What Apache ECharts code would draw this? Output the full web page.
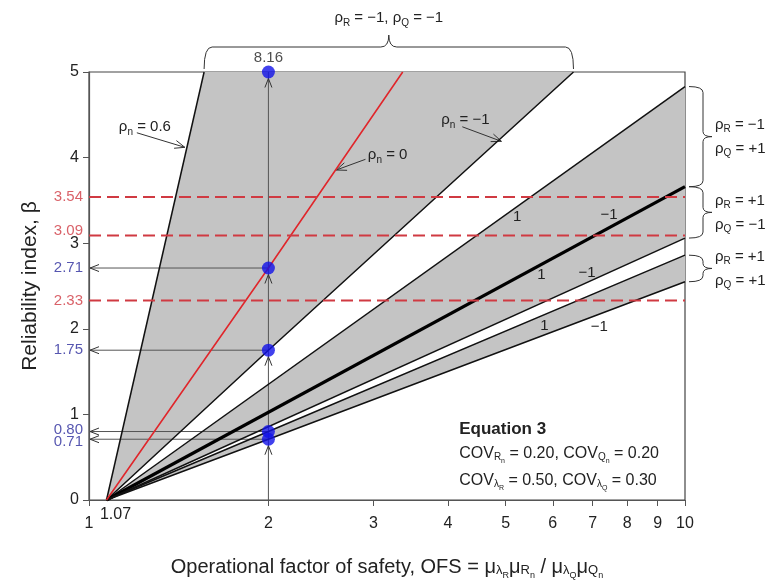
<!DOCTYPE html>
<html><head><meta charset="utf-8">
<script src="https://cdn.jsdelivr.net/npm/echarts@6/dist/echarts.min.js"></script>
<style>html,body{margin:0;padding:0;background:#fff}#c{width:773px;height:587px}</style>
</head><body><div id="c"></div>
<script>
// ---------------- data ----------------
const xTickValues = [1, 2, 3, 4, 5, 6, 7, 8, 9, 10];
const yTickValues = [0, 1, 2, 3, 4, 5];
const ofsStart = 1.07;
const rho06Line   = [[1.07, 0], [1.56, 5]];              // rho_n = 0.6
const rho0Line    = [[1.07, 0], [2, 2.71], [3.36, 5]];   // rho_n = 0 (red)
const rhoM1Line   = [[1.07, 0], [2, 1.75], [6.5, 5]];    // rho_n = -1
const band2Upper  = [[1.07, 0], [10, 4.83]];
const thickLine   = [[1.07, 0], [10, 3.66]];
const band3Lower  = [[1.07, 0], [10, 3.06]];
const band4Upper  = [[1.07, 0], [2, 0.80], [10, 2.86]];
const band4Lower  = [[1.07, 0], [2, 0.71], [10, 2.55]];
const targetBetas = [3.54, 3.09, 2.33];
const pointOFS    = 2;
const pointBetas  = [8.16, 2.71, 1.75, 0.80, 0.71];
const bandLabels  = [['1', 5.23, 3.31], ['\u22121', 7.46, 3.33], ['1', 5.74, 2.63], ['\u22121', 6.85, 2.65], ['1', 5.81, 2.04], ['\u22121', 7.18, 2.02]];

// ---------------- styling / layout ----------------
const F = '"Liberation Sans", Arial, Helvetica, sans-serif';
const TXT = '#222';
const RED = '#d03a42';
const BLUE = '#2c2c9c';
const xMin = 1, xMax = 10, yMin = 0, yMax = 5;

const poly = (up, low) => up.concat(low.slice().reverse());
const grayRegions = [poly(rho06Line, rhoM1Line), poly(band2Upper, thickLine), poly(thickLine, band3Lower), poly(band4Upper, band4Lower)];

function richZ(size) {
  return {
    r: {fontSize: size, fontFamily: F, fill: TXT, lineHeight: 20},
    s: {fontSize: Math.round(size * 0.68), fontFamily: F, fill: TXT, lineHeight: 10, verticalAlign: 'bottom'}
  };
}
function richZ2(size) {
  return {
    r: {fontSize: size, fontFamily: F, fill: TXT, lineHeight: 22},
    s: {fontSize: 10, fontFamily: F, fill: TXT, lineHeight: 10, verticalAlign: 'bottom', padding: [0, 0, 3, 0]},
    ss: {fontSize: 7, fontFamily: F, fill: TXT, lineHeight: 7, verticalAlign: 'bottom'}
  };
}
function head(tip, from, len, w) {
  const dx = tip[0] - from[0], dy = tip[1] - from[1];
  const L = Math.hypot(dx, dy), ux = dx / L, uy = dy / L;
  const bx = tip[0] - ux * len, by = tip[1] - uy * len;
  return {type: 'polyline', shape: {points: [[bx - uy * w, by + ux * w], tip, [bx + uy * w, by - ux * w]]},
          style: {stroke: '#333', fill: null, lineWidth: 1}};
}
function seg(a, b, color, w) {
  return {type: 'line', shape: {x1: a[0], y1: a[1], x2: b[0], y2: b[1]}, style: {stroke: color || '#444', lineWidth: w || 1}};
}
function text(str, x, y, align, rich, extra) {
  return {type: 'text', style: Object.assign({text: str, x: x, y: y, align: align || 'center', verticalAlign: 'middle', rich: rich}, extra || {})};
}

function renderNotes(params, api) {
  const ch = [];
  const c = p => api.coord(p);
  const R = 6.5;
  // vertical guide at OFS = 2
  const vb = c([pointOFS, yMin]), vt = c([pointOFS, yMax]);
  ch.push(seg(vb, vt, '#555', 1));
  // horizontal guides with arrows to the y-axis
  pointBetas.forEach(b => {
    if (b > yMax) return;
    const p = c([pointOFS, b]), a = c([xMin, b]);
    ch.push(seg(p, [a[0] + 1, a[1]], '#555', 1));
    ch.push(head([a[0] + 1, a[1]], p, 9, 3.5));
  });
  // upward arrowheads below dots
  [8.16, 2.71, 1.75, 0.71].forEach(b => {
    const p = c([pointOFS, Math.min(b, yMax)]);
    const tip = [p[0], p[1] + R];
    ch.push(head(tip, [tip[0], tip[1] + 10], 9, 3.5));
  });
  // rho_n annotations (text position, arrow tail, arrow tip in data units)
  const notes = [
    ['0.6', [1.241, 4.36], [1.203, 4.29], [1.448, 4.12]],
    ['0', [3.17, 4.03], [2.91, 3.98], [2.60, 3.855]],
    ['\u22121', [4.28, 4.44], [4.23, 4.36], [4.92, 4.19]]
  ];
  notes.forEach(n => {
    const t = c(n[1]), a = c(n[2]), b = c(n[3]);
    ch.push(text('{r|\u03c1}{s|n}{r| = ' + n[0] + '}', t[0], t[1], 'center', richZ(15)));
    ch.push(seg(a, b, '#333', 1));
    ch.push(head(b, a, 10, 4));
  });
  // top brace over the rho_R = rho_Q = -1 region
  const l = c(rho06Line[rho06Line.length - 1]), r = c(rhoM1Line[rhoM1Line.length - 1]);
  const yb = l[1] - 3, ym = l[1] - 25, yt = l[1] - 37, xm = (l[0] + r[0]) / 2;
  ch.push({type: 'path', shape: {pathData:
    `M${l[0]},${yb} Q${l[0]},${ym} ${l[0] + 8},${ym} L${xm - 8},${ym} Q${xm},${ym} ${xm},${yt} Q${xm},${ym} ${xm + 8},${ym} L${r[0] - 8},${ym} Q${r[0]},${ym} ${r[0]},${yb}`},
    style: {stroke: '#333', fill: null, lineWidth: 1}});
  ch.push(text('{r|\u03c1}{s|R}{r| = \u22121, \u03c1}{s|Q}{r| = \u22121}', xm, l[1] - 54, 'center', richZ(15)));
  // right braces
  const rb = [
    [band2Upper, thickLine, '\u22121', '+1'],
    [thickLine, band3Lower, '+1', '\u22121'],
    [band4Upper, band4Lower, '+1', '+1']
  ];
  rb.forEach(d => {
    const p1 = c(d[0][d[0].length - 1]), p2 = c(d[1][d[1].length - 1]);
    const xb = p1[0] + 4, xf = p1[0] + 18, xt = p1[0] + 27;
    const y1 = p1[1], y2 = p2[1], ymid = (y1 + y2) / 2;
    ch.push({type: 'path', shape: {pathData:
      `M${xb},${y1} Q${xf},${y1} ${xf},${y1 + 6} L${xf},${ymid - 5} Q${xf},${ymid} ${xt},${ymid} Q${xf},${ymid} ${xf},${ymid + 5} L${xf},${y2 - 6} Q${xf},${y2} ${xb},${y2}`},
      style: {stroke: '#333', fill: null, lineWidth: 1}});
    ch.push(text('{r|\u03c1}{s|R}{r| = ' + d[2] + '}', xt + 3, ymid - 12, 'left', richZ(15)));
    ch.push(text('{r|\u03c1}{s|Q}{r| = ' + d[3] + '}', xt + 3, ymid + 12, 'left', richZ(15)));
  });
  // band labels
  bandLabels.forEach(b => {
    const p = c([b[1], b[2]]);
    ch.push(text(b[0], p[0], p[1], 'center', null, {fontSize: 15, fontFamily: F, fill: TXT}));
  });
  // equation block
  const e = c([4.18, 0.82]);
  ch.push(text('Equation 3', e[0], e[1], 'left', null, {fontSize: 17, fontFamily: F, fill: TXT, fontWeight: 'bold'}));
  ch.push(text('{r|COV}{s|R}{ss|n}{r| = 0.20, COV}{s|Q}{ss|n}{r| = 0.20}', e[0], e[1] + 24, 'left', richZ2(16)));
  ch.push(text('{r|COV}{s|\u03bb}{ss|R}{r| = 0.50, COV}{s|\u03bb}{ss|Q}{r| = 0.30}', e[0], e[1] + 51, 'left', richZ2(16)));
  // 1.07 label on the x-axis
  const o = c([ofsStart, yMin]);
  ch.push(text('1.07', o[0] + 9, o[1] + 15, 'center', null, {fontSize: 16, fontFamily: F, fill: TXT}));
  return {type: 'group', children: ch};
}

const lineSeries = (data, color, width, z) => ({
  type: 'line', data: data, showSymbol: false, symbol: 'none', clip: true, silent: true, z: z || 5,
  lineStyle: {color: color, width: width}
});

const leftLabels = targetBetas.map(v => ({value: [xMin, v], label: {color: RED, offset: [0, v === 3.09 ? -5 : 0]}}))
  .concat(pointBetas.filter(v => v <= yMax).map(v => ({value: [xMin, v], label: {color: BLUE, offset: [0, v === 0.80 ? -2 : (v === 0.71 ? 3 : 0)]}})));

const option = {
  animation: false,
  backgroundColor: '#fff',
  grid: {left: 89, right: 88, top: 72, bottom: 87, containLabel: false, outerBoundsMode: 'none', show: true, borderColor: '#444', borderWidth: 1.2},
  xAxis: {
    type: 'log', logBase: 10, min: xMin, max: xMax,
    axisLine: {lineStyle: {color: '#555', width: 1.2}},
    axisTick: {show: true, length: 6, lineStyle: {color: '#555'}, customValues: xTickValues},
    axisLabel: {customValues: xTickValues, color: TXT, fontSize: 16, fontFamily: F, margin: 16},
    splitLine: {show: false}, minorTick: {show: false},
    name: '{t|Operational factor of safety, OFS = \u03bc}{s|\u03bb}{ss|R}{t|\u03bc}{s|R}{ss|n}{t| / \u03bc}{s|\u03bb}{ss|Q}{t|\u03bc}{s|Q}{ss|n}',
    nameLocation: 'middle', nameGap: 54,
    nameTextStyle: {rich: {
      t: {fontSize: 20, fontFamily: F, color: TXT, lineHeight: 26},
      s: {fontSize: 13, fontFamily: F, color: TXT, lineHeight: 13, verticalAlign: 'bottom', padding: [0, 0, 3, 0]},
      ss: {fontSize: 9, fontFamily: F, color: TXT, lineHeight: 9, verticalAlign: 'bottom'}
    }}
  },
  yAxis: {
    type: 'value', min: yMin, max: yMax, interval: 1,
    axisLine: {show: true, lineStyle: {color: '#555', width: 1.2}},
    axisTick: {show: true, length: 6, lineStyle: {color: '#555'}},
    axisLabel: {color: TXT, fontSize: 16, fontFamily: F, margin: 10},
    splitLine: {show: false},
    name: 'Reliability index, \u03b2', nameLocation: 'middle', nameGap: 48, nameRotate: 90,
    nameTextStyle: {fontSize: 21, fontFamily: F, color: TXT}
  },
  series: [
    {type: 'custom', coordinateSystem: 'cartesian2d', silent: true, z: 1,
     data: grayRegions.map(r => r[0]),
     renderItem: (p, api) => ({type: 'polygon', shape: {points: grayRegions[p.dataIndex].map(pt => api.coord(pt))}, style: {fill: '#c4c4c4'}})},
    {type: 'custom', coordinateSystem: 'cartesian2d', silent: true, z: 3, clip: false,
     data: [[pointOFS, yMin]], renderItem: renderNotes},
    lineSeries(rho06Line, '#111', 1.5),
    lineSeries(rhoM1Line, '#111', 1.5),
    lineSeries(band2Upper, '#111', 1.5),
    lineSeries(thickLine, '#000', 3.2),
    lineSeries(band3Lower, '#111', 1.5),
    lineSeries(band4Upper, '#111', 1.5),
    lineSeries(band4Lower, '#111', 1.5),
    lineSeries(rho0Line, '#e0262b', 1.6, 6)
  ].concat(targetBetas.map(v => ({
    type: 'line', data: [[xMin, v], [xMax, v]], showSymbol: false, symbol: 'none', silent: true, z: 7,
    lineStyle: {color: RED, width: 2, type: [12, 6]}
  }))).concat([
    {type: 'scatter', silent: true, z: 10, clip: false, symbolSize: 13, itemStyle: {color: '#1212e8'},
     data: pointBetas.map(v => v > yMax ? {value: [pointOFS, yMax], label: {show: true, formatter: String(v), position: 'top', distance: 0, color: TXT, fontSize: 15, fontFamily: F}} : [pointOFS, v])},
    {type: 'scatter', silent: true, z: 10, clip: false, symbolSize: 0,
     label: {show: true, position: 'left', distance: 6, fontSize: 15, fontFamily: F, formatter: p => p.value[1].toFixed(2)},
     data: leftLabels}
  ])
};
const chart = echarts.init(document.getElementById('c'));
chart.setOption(option);
</script></body></html>
